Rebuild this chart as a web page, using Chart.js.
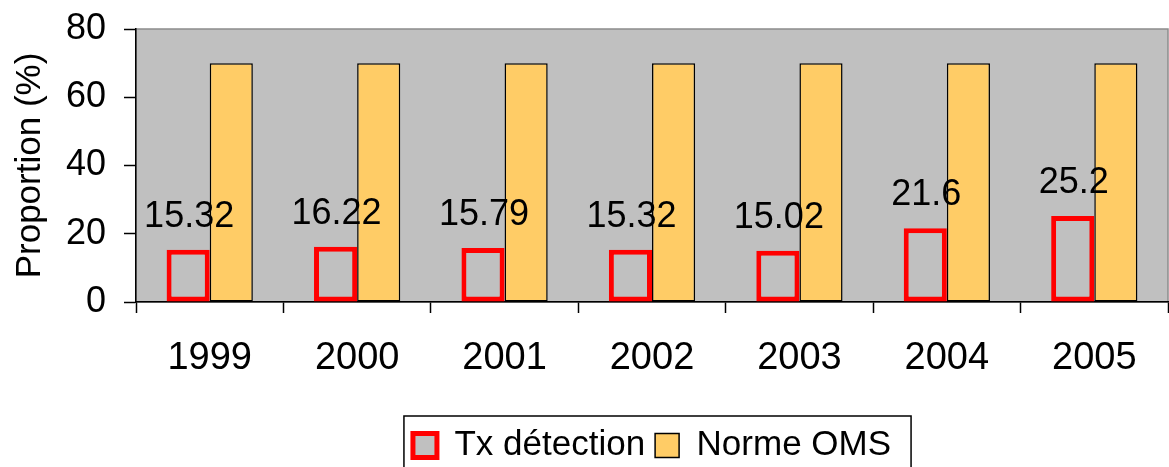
<!DOCTYPE html>
<html>
<head>
<meta charset="utf-8">
<script src="https://cdn.jsdelivr.net/npm/chart.js@4"></script>
<style>
  html, body { margin: 0; padding: 0; background: #fff; }
  #wrap { width: 1169px; height: 467px; }
</style>
</head>
<body>
<div id="wrap"><canvas id="c" width="1169" height="467"></canvas></div>
<script>
// data
const years = ['1999', '2000', '2001', '2002', '2003', '2004', '2005'];
const txDetection = [15.32, 16.22, 15.79, 15.32, 15.02, 21.6, 25.2];
const normeOMS = [70, 70, 70, 70, 70, 70, 70];
const yTicks = [0, 20, 40, 60, 80];

const FONT = "'Liberation Sans', Arial, sans-serif";

// grey plot background with grey frame
const plotBg = {
  id: 'plotBg',
  beforeDraw(chart) {
    const a = chart.chartArea, ctx = chart.ctx;
    ctx.save();
    ctx.fillStyle = '#C0C0C0';
    ctx.fillRect(a.left, a.top, a.right - a.left, a.bottom - a.top);
    ctx.strokeStyle = '#8c8c8c';
    ctx.lineWidth = 1.5;
    ctx.strokeRect(a.left, a.top, a.right - a.left, a.bottom - a.top);
    ctx.restore();
  }
};

// value labels over the red bars
const valueLabels = {
  id: 'valueLabels',
  afterDatasetsDraw(chart) {
    const ctx = chart.ctx;
    const meta = chart.getDatasetMeta(0);
    ctx.save();
    ctx.font = '36px ' + FONT;
    ctx.fillStyle = '#000';
    ctx.textAlign = 'center';
    ctx.textBaseline = 'alphabetic';
    meta.data.forEach(function (bar, i) {
      ctx.fillText(String(txDetection[i]), bar.x + 1, bar.y - 23);
    });
    ctx.restore();
  }
};

// frame around the legend (runs off the bottom edge like in the picture)
const legendFrame = {
  id: 'legendFrame',
  afterDraw(chart) {
    const hb = chart.legend.legendHitBoxes;
    if (!hb || !hb.length) return;
    const last = hb[hb.length - 1];
    const left = hb[0].left - 9;
    const right = last.left + last.width + 20;
    const top = hb[0].top - 12;
    const ctx = chart.ctx;
    ctx.save();
    ctx.strokeStyle = '#000';
    ctx.lineWidth = 1.5;
    ctx.strokeRect(left, top, right - left, chart.height + 10 - top);
    ctx.restore();
  }
};

new Chart(document.getElementById('c'), {
  type: 'bar',
  data: {
    labels: years,
    datasets: [
      {
        label: 'Tx détection',
        data: txDetection,
        backgroundColor: '#C0C0C0',
        borderColor: '#FF0000',
        borderWidth: 5,
        borderSkipped: false
      },
      {
        label: 'Norme OMS',
        data: normeOMS,
        backgroundColor: '#FFCC66',
        borderColor: '#000000',
        borderWidth: 1.5,
        borderSkipped: false
      }
    ]
  },
  options: {
    responsive: false,
    animation: false,
    devicePixelRatio: 1,
    layout: { padding: { top: 29, right: 1, left: 0, bottom: -6 } },
    datasets: { bar: { categoryPercentage: 0.585, barPercentage: 1 } },
    plugins: {
      legend: {
        position: 'bottom',
        fullSize: false,
        labels: {
          font: { family: FONT, size: 35 },
          color: '#000',
          boxWidth: 24,
          boxHeight: 24,
          padding: 10
        }
      },
      tooltip: { enabled: false }
    },
    scales: {
      x: {
        grid: {
          offset: true,
          drawOnChartArea: false,
          drawTicks: true,
          tickLength: 11,
          tickColor: '#000',
          tickWidth: 1.5
        },
        border: { color: '#000', width: 1.5 },
        ticks: {
          font: { family: FONT, size: 38 },
          color: '#000',
          padding: 23,
          maxRotation: 0
        },
        afterFit(scale) { scale.height = 116; }
      },
      y: {
        min: 0,
        max: 80,
        afterBuildTicks(scale) { scale.ticks = yTicks.map(v => ({ value: v })); },
        grid: {
          drawOnChartArea: false,
          drawTicks: true,
          tickLength: 12,
          tickColor: '#000',
          tickWidth: 1.5
        },
        border: { color: '#000', width: 1.5 },
        ticks: {
          font: { family: FONT, size: 36 },
          color: '#000',
          padding: 18
        },
        title: {
          display: true,
          text: 'Proportion (%)',
          font: { family: FONT, size: 35 },
          color: '#000',
          padding: { top: 9, bottom: 0 }
        },
        afterFit(scale) {
          scale.width = 136;
          scale.paddingTop = 0;
          scale.paddingBottom = 0;
        }
      }
    }
  },
  plugins: [plotBg, valueLabels, legendFrame]
});
</script>
</body>
</html>
